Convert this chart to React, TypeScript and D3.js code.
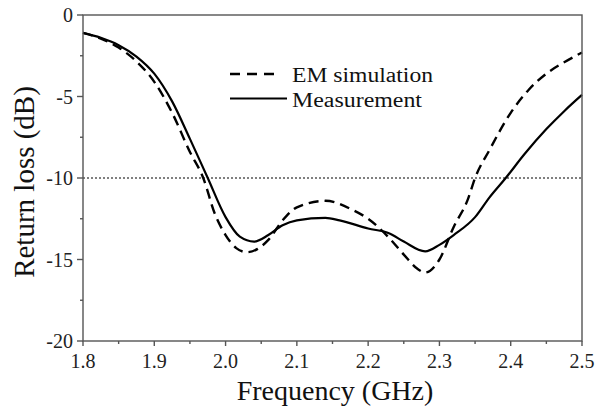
import React from "react";
import * as d3 from "d3";

const freqSim = [1.8, 1.825, 1.85, 1.875, 1.9, 1.925, 1.95, 1.9687, 1.985, 2.0, 2.015, 2.03, 2.045, 2.06, 2.08, 2.1, 2.14, 2.18, 2.2, 2.23, 2.25, 2.27, 2.28, 2.3, 2.32, 2.34, 2.35, 2.37, 2.4, 2.425, 2.45, 2.475, 2.5];
const rlSim = [-1.1, -1.45, -2.0, -2.85, -4.1, -6.0, -8.4, -10.0, -12.2, -13.5, -14.3, -14.55, -14.35, -13.8, -12.6, -11.8, -11.4, -12.0, -12.5, -13.7, -14.7, -15.6, -15.8, -15.0, -13.0, -11.3, -10.0, -8.3, -6.0, -4.6, -3.6, -2.9, -2.3];

const freqMeas = [1.8, 1.825, 1.85, 1.875, 1.9, 1.925, 1.95, 1.975, 2.0, 2.02, 2.04, 2.06, 2.08, 2.1, 2.14, 2.16, 2.2, 2.23, 2.25, 2.28, 2.3, 2.32, 2.35, 2.37, 2.393, 2.42, 2.45, 2.475, 2.5];
const rlMeas = [-1.1, -1.4, -1.85, -2.55, -3.6, -5.3, -7.6, -10.0, -12.4, -13.6, -13.9, -13.5, -12.9, -12.6, -12.45, -12.6, -13.1, -13.4, -13.9, -14.5, -14.1, -13.5, -12.4, -11.2, -10.0, -8.5, -7.0, -5.9, -4.9];

const xTicks = [1.8, 1.9, 2.0, 2.1, 2.2, 2.3, 2.4, 2.5];
const xMinor = [1.85, 1.95, 2.05, 2.15, 2.25, 2.35, 2.45];
const yTicks = [0, -5, -10, -15, -20];
const yMinor = [-2.5, -7.5, -12.5, -17.5];
const refLevel = -10;
const legendLabels = ["EM simulation", "Measurement"];

export default function App() {
  const left = 83, right = 582, top = 15, bottom = 341;
  const x = d3.scaleLinear().domain([1.8, 2.5]).range([left, right]);
  const y = d3.scaleLinear().domain([0, -20]).range([top, bottom]);
  const line = d3
    .line<[number, number]>()
    .x((d) => x(d[0]))
    .y((d) => y(d[1]))
    .curve(d3.curveMonotoneX);
  const simPts = freqSim.map((f, i) => [f, rlSim[i]] as [number, number]);
  const measPts = freqMeas.map((f, i) => [f, rlMeas[i]] as [number, number]);
  const axisColor = "#555";
  const font = "'Liberation Serif', 'Times New Roman', serif";

  return (
    <svg width={595} height={408} style={{ position: "absolute", left: 0, top: 0, background: "#fff" }}>
      <rect x={0} y={0} width={595} height={408} fill="#fff" />
      <line x1={left} x2={right} y1={y(refLevel)} y2={y(refLevel)} stroke="#000" strokeWidth={1} strokeDasharray="2,2" />
      <path d={line(simPts) || ""} fill="none" stroke="#000" strokeWidth={2.4} strokeDasharray="10,6" />
      <path d={line(measPts) || ""} fill="none" stroke="#000" strokeWidth={2.2} />
      <rect x={left} y={top} width={right - left} height={bottom - top} fill="none" stroke={axisColor} strokeWidth={1.4} />
      {xTicks.map((t) => (
        <g key={"xt" + t}>
          <line x1={x(t)} x2={x(t)} y1={bottom} y2={bottom + 5} stroke={axisColor} strokeWidth={1.4} />
          <text x={x(t)} y={368} textAnchor="middle" fontFamily={font} fontSize={20} fill="#222">
            {t.toFixed(1)}
          </text>
        </g>
      ))}
      {xMinor.map((t) => (
        <line key={"xm" + t} x1={x(t)} x2={x(t)} y1={bottom} y2={bottom + 3} stroke={axisColor} strokeWidth={1.4} />
      ))}
      {yTicks.map((t) => (
        <g key={"yt" + t}>
          <line x1={left - 6} x2={left} y1={y(t)} y2={y(t)} stroke={axisColor} strokeWidth={1.4} />
          <text x={73} y={y(t) + 7} textAnchor="end" fontFamily={font} fontSize={20} fill="#222">
            {t}
          </text>
        </g>
      ))}
      {yMinor.map((t) => (
        <line key={"ym" + t} x1={left - 3} x2={left} y1={y(t)} y2={y(t)} stroke={axisColor} strokeWidth={1.4} />
      ))}
      <text x={335} y={400} textAnchor="middle" fontFamily={font} fontSize={28} fill="#111">
        Frequency (GHz)
      </text>
      <text transform="translate(34,182) rotate(-90)" textAnchor="middle" fontFamily={font} fontSize={29} fill="#111">
        Return loss (dB)
      </text>
      <line x1={230} x2={278} y1={74} y2={74} stroke="#000" strokeWidth={2.4} strokeDasharray="10,7" />
      <text x={292} y={82} fontFamily={font} fontSize={20} fill="#111" textLength={141} lengthAdjust="spacingAndGlyphs">
        {legendLabels[0]}
      </text>
      <line x1={230} x2={287} y1={98.5} y2={98.5} stroke="#000" strokeWidth={2.2} />
      <text x={292} y={107} fontFamily={font} fontSize={20} fill="#111" textLength={130} lengthAdjust="spacingAndGlyphs">
        {legendLabels[1]}
      </text>
    </svg>
  );
}
